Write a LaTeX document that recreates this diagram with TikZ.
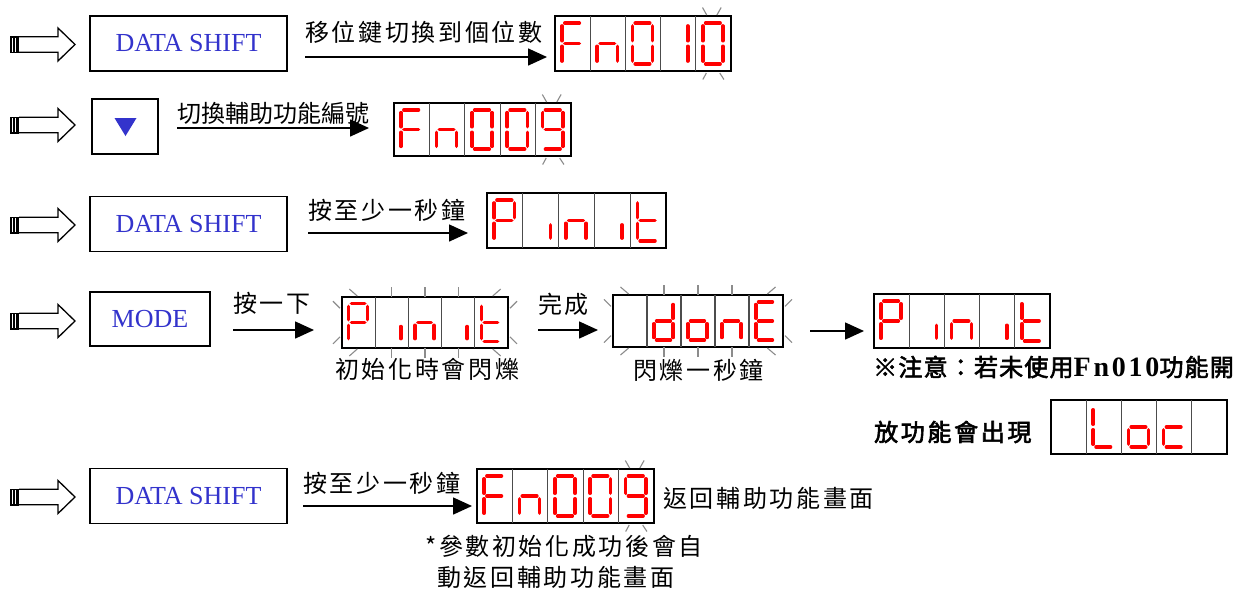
\documentclass[tikz,border=0pt]{standalone}
\usepackage{fontspec}
\setmainfont{Liberation Serif}
\newfontfamily\cjk[LetterSpace=11]{Noto Sans CJK TC}
\newfontfamily\cjkn{Noto Sans CJK TC}
\newfontfamily\cjkb[FakeBold=2.5,LetterSpace=5]{Noto Sans CJK TC}
\newfontfamily\cjkbb[FakeBold=2.5,LetterSpace=11]{Noto Sans CJK TC}
\newfontfamily\latb[LetterSpace=10]{Liberation Serif Bold}
\usetikzlibrary{arrows.meta}
\definecolor{btnblue}{RGB}{51,51,204}
\definecolor{segred}{RGB}{255,0,0}
\definecolor{blinkgray}{RGB}{140,140,140}
\tikzset{
  btn/.style={draw,line width=1.6,inner sep=0,text=btnblue,font=\fontsize{26}{30}\selectfont},
  dispbox/.style={draw,line width=1.3,inner sep=0,outer sep=0,anchor=north west},
  sepline/.style={line width=1.1,draw=black!70},
  seg/.style={line width=3.6,draw=segred,line cap=round},
  blink/.style={line width=1.1,draw=blinkgray},
  arr/.style={line width=1.6,-{Triangle[length=19pt,width=17pt]}},
  lbl/.style={inner sep=0,anchor=west,font=\cjk\fontsize{24}{26}\selectfont},
  lbln/.style={inner sep=0,anchor=west,font=\cjkn\fontsize{24}{26}\selectfont},
  handline/.style={line width=1.3,line join=miter}
}
% hand pointer icon
\newcommand\hand[1]{%
  \fill (10,#1-8.5) rectangle (19,#1+8.5);
  \fill[white] (12.4,#1-7) rectangle (13.4,#1+7);
  \fill[white] (15.4,#1-7) rectangle (16.4,#1+7);
  \draw[handline] (19,#1-7.8) -- (58,#1-7.8) -- (58,#1-16.5) -- (75,#1) -- (58,#1+16.5) -- (58,#1+7.8) -- (19,#1+7.8);}
% display frame
\newcommand\disp[5]{%
  \pgfmathsetmacro\dX{#2}\pgfmathsetmacro\dY{#3}%
  \pgfmathsetmacro\dW{(#4-#2)/5}\pgfmathsetmacro\dH{#5-#3}%
  \node[dispbox,minimum width=#4-#2,minimum height=#5-#3] (#1) at (#2,#3) {};
  \foreach \i in {1,2,3,4}{\draw[sepline] (\dX+\i*\dW,\dY) -- (\dX+\i*\dW,\dY+\dH);}
}
\def\sg{2.8}
\newcommand\SA{\draw[seg] (\xL+\sg,\yT) -- (\xR-\sg,\yT);}
\newcommand\SB{\draw[seg] (\xR,\yT+\sg) -- (\xR,\yM-\sg);}
\newcommand\SC{\draw[seg] (\xR,\yM+\sg) -- (\xR,\yB-\sg);}
\newcommand\SD{\draw[seg] (\xL+\sg,\yB) -- (\xR-\sg,\yB);}
\newcommand\SE{\draw[seg] (\xL,\yM+\sg) -- (\xL,\yB-\sg);}
\newcommand\SF{\draw[seg] (\xL,\yT+\sg) -- (\xL,\yM-\sg);}
\newcommand\SG{\draw[seg] (\xL+\sg,\yM) -- (\xR-\sg,\yM);}
\newcommand\SI{\draw[seg] (\xR,\yM+0.08*\dH) -- (\xR,\yB-\sg);}
\newcommand\gF{\SA\SF\SE\SG}
\newcommand\gn{\SE\SG\SC}
\newcommand\gZero{\SA\SB\SC\SD\SE\SF}
\newcommand\gOne{\SB\SC}
\newcommand\gNine{\SA\SB\SC\SD\SF\SG}
\newcommand\gP{\SA\SB\SE\SF\SG}
\newcommand\gi{\SI}
\newcommand\gt{\SF\SE\SG\SD}
\newcommand\gd{\SB\SC\SD\SE\SG}
\newcommand\go{\SC\SD\SE\SG}
\newcommand\gE{\SA\SD\SE\SF\SG}
\newcommand\gL{\SD\SE\SF}
\newcommand\gc{\SD\SE\SG}
\newcommand\gBlank{}
\newcommand\cellg[2]{%
  \pgfmathsetmacro\xL{\dX+#1*\dW+0.2*\dW}%
  \pgfmathsetmacro\xR{\dX+#1*\dW+0.77*\dW}%
  \pgfmathsetmacro\yT{\dY+0.13*\dH}%
  \pgfmathsetmacro\yM{\dY+0.5*\dH}%
  \pgfmathsetmacro\yB{\dY+0.87*\dH}%
  #2}
\newcommand\glyphs[5]{\cellg{0}{#1}\cellg{1}{#2}\cellg{2}{#3}\cellg{3}{#4}\cellg{4}{#5}}
\newcommand\blinkcell[1]{%
  \pgfmathsetmacro\cx{\dX+#1*\dW}\pgfmathsetmacro\yb{\dY+\dH}%
  \draw[blink] (\cx+0.31*\dW,\dY-1) -- (\cx+0.19*\dW,\dY-8.5);
  \draw[blink] (\cx+0.6*\dW,\dY-1) -- (\cx+0.72*\dW,\dY-8.5);
  \draw[blink] (\cx+0.3*\dW,\yb+2) -- (\cx+0.2*\dW,\yb+8.5);
  \draw[blink] (\cx+0.68*\dW,\yb+2) -- (\cx+0.8*\dW,\yb+8.5);}
\newcommand\blinkall{%
  \pgfmathsetmacro\xe{\dX+5*\dW}\pgfmathsetmacro\yb{\dY+\dH}%
  \draw[blink] (\dX+0.46*\dW,\dY-1) -- (\dX+0.22*\dW,\dY-8);
  \draw[blink] (\xe-0.46*\dW,\dY-1) -- (\xe-0.22*\dW,\dY-8);
  \draw[blink] (\dX+0.46*\dW,\yb+1) -- (\dX+0.22*\dW,\yb+8);
  \draw[blink] (\xe-0.46*\dW,\yb+1) -- (\xe-0.22*\dW,\yb+8);
  \foreach \i in {1.5,2.5,3.5}{%
    \draw[blink] (\dX+\i*\dW,\dY) -- (\dX+\i*\dW,\dY-10);
    \draw[blink] (\dX+\i*\dW,\yb) -- (\dX+\i*\dW,\yb+10);}
  \draw[blink] (\dX-2,\dY+0.22*\dH) -- (\dX-9,\dY+0.22*\dH-7);
  \draw[blink] (\dX-2,\dY+0.78*\dH) -- (\dX-9,\dY+0.78*\dH+7);
  \draw[blink] (\xe+2,\dY+0.22*\dH) -- (\xe+9,\dY+0.22*\dH-7);
  \draw[blink] (\xe+2,\dY+0.78*\dH) -- (\xe+9,\dY+0.78*\dH+7);}
\begin{document}
\begin{tikzpicture}[x=1pt,y=-1pt]
\fill[white] (0,0) rectangle (1253,590);
\useasboundingbox (0,0) rectangle (1253,590);

% ---------- Row 1 ----------
\hand{44.5}
\node[btn,minimum width=197,minimum height=55] (b1) at (188.5,43.5) {DATA SHIFT};
\node[lbl] (l1) at (305,32) {移位鍵切換到個位數};
\coordinate (a1s) at (305,57); \coordinate (a1e) at (547,57);
\draw[arr] (a1s) -- (a1e);
\disp{d1}{555}{16}{731}{71}
\glyphs{\gF}{\gn}{\gZero}{\gOne}{\gZero}
\blinkcell{4}

% ---------- Row 2 ----------
\hand{125}
\node[btn,minimum width=66,minimum height=55] (b2) at (125,126.5) {};
\fill[btnblue] (114.5,118) -- (136.5,118) -- (125.5,136) -- cycle;
\node[lbln] (l2) at (177,113) {切換輔助功能編號};
\coordinate (a2s) at (177,128); \coordinate (a2e) at (369,128);
\draw[arr] (a2s) -- (a2e);
\disp{d2}{394}{103}{571}{156}
\glyphs{\gF}{\gn}{\gZero}{\gZero}{\gNine}
\blinkcell{4}

% ---------- Row 3 ----------
\hand{225}
\node[btn,minimum width=197,minimum height=55] (b3) at (188.5,224) {DATA SHIFT};
\node[lbl] (l3) at (308,210) {按至少一秒鐘};
\coordinate (a3s) at (308,233); \coordinate (a3e) at (468,233);
\draw[arr] (a3s) -- (a3e);
\disp{d3}{487}{193}{666}{248}
\glyphs{\gP}{\gi}{\gn}{\gi}{\gt}

% ---------- Row 4 ----------
\hand{321}
\node[btn,minimum width=120,minimum height=54] (b4) at (150,319) {MODE};
\node[lbl] (l4) at (233,303) {按一下};
\coordinate (a4s) at (233,330); \coordinate (a4e) at (314,330);
\draw[arr] (a4s) -- (a4e);
\disp{d4}{342}{297}{508}{348}
\glyphs{\gP}{\gi}{\gn}{\gi}{\gt}
\blinkall
\node[lbl] (c4) at (335,369) {初始化時會閃爍};
\node[lbl] (l5) at (538,304) {完成};
\coordinate (a5s) at (538,330); \coordinate (a5e) at (598,330);
\draw[arr] (a5s) -- (a5e);
\disp{d5}{613}{295}{783}{347}
\glyphs{\gBlank}{\gd}{\go}{\gn}{\gE}
\blinkall
\node[lbl] (c5) at (633,370) {閃爍一秒鐘};
\coordinate (a6s) at (810,331); \coordinate (a6e) at (864,331);
\draw[arr] (a6s) -- (a6e);
\disp{d6}{874}{294}{1050}{348}
\glyphs{\gP}{\gi}{\gn}{\gi}{\gt}
\node[inner sep=0,anchor=west,font=\cjkb\fontsize{24}{26}\selectfont] (n1) at (873,367)
  {※注意：若未使用{\latb\fontsize{28}{30}\selectfont Fn010}功能開};
\node[inner sep=0,anchor=west,font=\cjkbb\fontsize{24}{26}\selectfont] (n2) at (874,432) {放功能會出現};
\disp{d7}{1051}{400}{1227}{454}
\glyphs{\gBlank}{\gL}{\go}{\gc}{\gBlank}

% ---------- Row 5 ----------
\hand{497}
\node[btn,minimum width=197,minimum height=55] (b5) at (188.5,496) {DATA SHIFT};
\node[lbl] (l7) at (303,483) {按至少一秒鐘};
\coordinate (a7s) at (303,506); \coordinate (a7e) at (472,506);
\draw[arr] (a7s) -- (a7e);
\disp{d8}{477}{469}{654}{523}
\glyphs{\gF}{\gn}{\gZero}{\gZero}{\gNine}
\blinkcell{4}
\node[lbl] (r8) at (663,498) {返回輔助功能畫面};
\node[lbl] (f1) at (425,546) {*參數初始化成功後會自};
\node[lbl] (f2) at (437,577) {動返回輔助功能畫面};
\end{tikzpicture}
\end{document}
